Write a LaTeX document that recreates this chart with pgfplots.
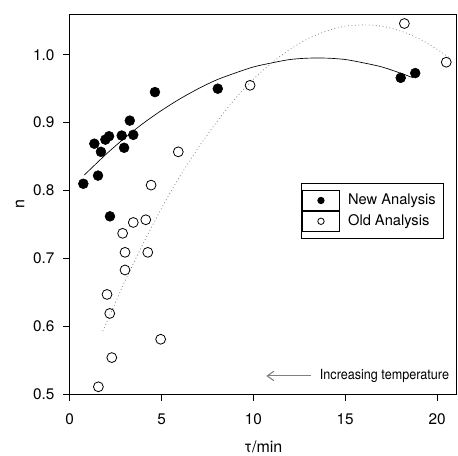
\documentclass[border=0pt]{standalone}
\usepackage{fontspec}
\setmainfont{TeX Gyre Heros}
\usepackage{pgfplots}
\pgfplotsset{compat=1.18}
\usetikzlibrary{arrows.meta}

\begin{document}
\begin{tikzpicture}
\begin{axis}[
  at={(0,0)}, anchor=south west,
  scale only axis, width=290.25pt, height=285.2pt,
  xmin=0, xmax=21.07, ymin=0.5, ymax=1.06,
  xtick={0,5,10,15,20},
  ytick={0.5,0.6,0.7,0.8,0.9,1.0},
  tick pos=left, tick align=outside,
  major tick length=5pt,
  axis line style={line width=0.6pt},
  every tick/.style={black, line width=0.6pt},
  tick label style={font=\fontsize{11.5}{13}\selectfont},
  /pgf/number format/assume math mode=true,
  yticklabel style={xshift=-3pt, /pgf/number format/.cd, fixed, fixed zerofill, precision=1},
  xticklabel style={yshift=-6pt},
  xlabel={τ/min}, ylabel={n},
  every axis x label/.style={at={(axis description cs:0.5,0)}, anchor=center,
    yshift=-39.5pt, font=\fontsize{12}{14}\selectfont},
  every axis y label/.style={at={(axis description cs:0,0.5)}, anchor=center,
    rotate=90, yshift=37.3pt, font=\fontsize{12}{14}\selectfont},
  legend image code/.code={
    \path (0pt,-7.5pt) rectangle (28.3pt,7.5pt);
    \draw[#1, mark size=2.4pt] plot coordinates {(14.25pt,0pt)};
  },
  legend style={at={(axis description cs:0.598,0.5564)}, anchor=north west,
    draw=black, line width=0.6pt, inner xsep=0pt, inner ysep=5.25pt,
    row sep=0pt, column sep=0pt,
    font=\fontsize{11}{13}\selectfont,
    nodes={inner xsep=6pt, inner ysep=0pt}},
  legend cell align=left,
]
% fitted curve, new analysis (solid)
\addplot[black, line width=0.5pt, smooth, forget plot] coordinates {
  (0.8,0.823) (2,0.854) (3,0.8775) (4,0.899) (5,0.918) (6,0.935) (7,0.950)
  (8,0.963) (9,0.973) (10,0.982) (11,0.988) (12,0.993) (13,0.995) (14,0.995)
  (15,0.993) (16,0.988) (17,0.982) (18,0.973) (18.7,0.966)};
% fitted curve, old analysis (dotted)
\addplot[gray, dotted, line width=0.6pt, smooth, forget plot] coordinates {
  (1.8,0.593) (3,0.666) (4,0.722) (5,0.774) (6,0.821) (7,0.863) (8,0.901)
  (9,0.935) (10,0.964) (11,0.988) (12,1.008) (13,1.024) (14,1.035) (15,1.042)
  (16,1.044) (17,1.042) (18,1.035) (19,1.024) (20,1.008) (20.7,0.995)};
% new analysis
\addplot[only marks, mark=*, mark size=3.7pt, black] coordinates {
  (0.74,0.810) (1.34,0.869) (1.54,0.822) (1.70,0.857) (1.94,0.875) (2.14,0.880)
  (2.19,0.762) (2.83,0.881) (2.96,0.863) (3.27,0.903) (3.46,0.882) (4.64,0.945)
  (8.06,0.950) (18.02,0.966) (18.81,0.973)};
\addlegendentry{New Analysis}
% old analysis
\addplot[only marks, mark=o, mark size=3.7pt, black, mark options={fill=white, line width=0.6pt}] coordinates {
  (1.56,0.511) (2.03,0.647) (2.18,0.619) (2.29,0.554) (2.88,0.737) (3.01,0.709)
  (3.01,0.683) (3.46,0.753) (4.14,0.757) (4.25,0.709) (4.43,0.808) (4.95,0.581)
  (5.91,0.857) (9.82,0.955) (18.22,1.046) (20.50,0.989)};
\addlegendentry{Old Analysis}
\draw[gray, line width=0.8pt, -{Straight Barb[length=5pt, width=7pt]}] (axis cs:13.15,0.527) -- (axis cs:10.7,0.527);
\node[anchor=west, inner sep=0pt, xscale=0.9, font=\fontsize{10.5}{12}\selectfont] at (axis cs:13.61,0.527) {Increasing temperature};
\end{axis}
\pgfresetboundingbox
\path[use as bounding box] (-52.3pt,-46.3pt) rectangle (291.2pt,295.7pt);
\end{tikzpicture}
\end{document}
